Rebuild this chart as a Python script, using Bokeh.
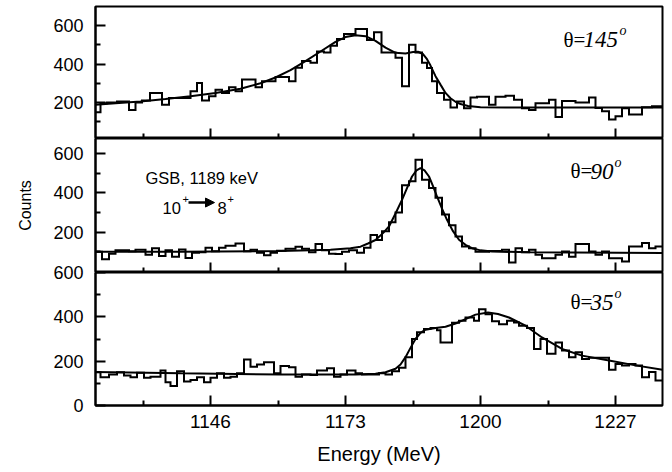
from bokeh.plotting import figure
from bokeh.layouts import column
from bokeh.models import (FixedTicker, Range1d, Label, Arrow, NormalHead,
                          CustomLabelingPolicy)
from bokeh.embed import file_html
from bokeh.resources import INLINE

# ---------------- data ----------------
x_ticks = [1146, 1173, 1200, 1227]
x_minor_ticks = [1132.5, 1159.5, 1186.5, 1213.5]
x_limits = (1123.0, 1236.4)

# theta = 145 deg panel
top_edges = [1123.0, 1124.0, 1125.3, 1127.3, 1129.7, 1131.0, 1132.3, 1133.9, 1136.3, 1137.7,
             1142.0, 1143.3, 1144.3, 1145.7, 1147.0, 1148.3, 1149.7, 1151.0, 1152.3, 1155.0,
             1156.3, 1159.0, 1161.7, 1163.0, 1164.3, 1166.0, 1167.3, 1168.7, 1170.0, 1171.3,
             1172.7, 1175.0, 1177.3, 1178.7, 1180.2, 1183.0, 1184.3, 1185.7, 1187.0, 1188.3,
             1189.3, 1190.3, 1191.3, 1192.7, 1194.0, 1195.3, 1196.7, 1198.0, 1199.3, 1201.7,
             1203.0, 1205.0, 1206.7, 1208.3, 1209.7, 1211.0, 1213.7, 1215.0, 1216.3, 1219.0,
             1221.7, 1223.0, 1224.3, 1225.7, 1227.0, 1228.3, 1229.7, 1232.3, 1234.3, 1236.4]
top_counts = [150, 196, 200, 205, 161, 200, 210, 249, 188, 223,
              258, 302, 210, 232, 267, 249, 279, 258, 319, 279,
              310, 332, 310, 381, 416, 407, 465, 460, 495, 530,
              556, 582, 525, 565, 460, 433, 284, 500, 460, 407,
              380, 310, 250, 214, 174, 205, 170, 226, 230, 188,
              230, 235, 214, 170, 161, 196, 214, 125, 208, 200,
              226, 172, 154, 112, 128, 170, 138, 176, 180]
top_fit_e = [1123, 1127, 1132, 1137, 1142, 1147, 1152, 1156, 1159, 1162,
             1165, 1168, 1171, 1173, 1175, 1177, 1179, 1181, 1183, 1185,
             1186.5, 1187.5, 1188.5, 1189.3, 1190, 1191, 1192, 1193, 1194, 1195,
             1196, 1197.5, 1200, 1205, 1215, 1236.4]
top_fit = [188, 196, 205, 218, 232, 250, 272, 300, 330, 368,
           415, 465, 515, 540, 550, 545, 520, 485, 458, 455,
           462, 464, 452, 425, 392, 337, 293, 250, 222, 204,
           192, 182, 176, 174, 174, 174]

# theta = 90 deg panel
mid_edges = [1123.0, 1124.3, 1125.7, 1127.0, 1129.7, 1131.0, 1133.0, 1134.3, 1135.7, 1137.0,
             1138.3, 1139.7, 1141.0, 1142.3, 1143.7, 1145.0, 1146.3, 1147.7, 1149.0, 1151.0,
             1152.7, 1154.0, 1155.3, 1156.7, 1158.0, 1159.3, 1161.0, 1163.0, 1164.3, 1165.7,
             1167.0, 1168.3, 1169.7, 1171.0, 1172.3, 1173.7, 1175.3, 1176.7, 1178.0, 1179.3,
             1180.3, 1181.7, 1183.0, 1184.3, 1185.7, 1187.0, 1188.3, 1189.7, 1191.0, 1192.3,
             1193.7, 1195.0, 1196.3, 1197.7, 1199.0, 1201.7, 1204.3, 1205.7, 1207.0, 1208.3,
             1209.7, 1211.0, 1212.3, 1215.0, 1216.3, 1217.7, 1219.0, 1221.7, 1223.0, 1224.3,
             1225.7, 1228.3, 1229.7, 1232.3, 1233.7, 1235.0, 1236.4]
mid_counts = [100, 62, 90, 108, 103, 110, 85, 118, 78, 108,
              75, 112, 68, 95, 98, 120, 102, 120, 130, 142,
              102, 110, 95, 82, 95, 105, 115, 125, 115, 98,
              140, 108, 90, 88, 100, 108, 95, 120, 185, 160,
              205, 250, 300, 440, 460, 569, 467, 425, 375, 290,
              235, 178, 127, 118, 100, 104, 110, 45, 118, 98,
              110, 85, 67, 84, 101, 75, 140, 101, 84, 101,
              67, 50, 127, 144, 118, 127]
mid_fit_e = [1123, 1140, 1160, 1170, 1174, 1176, 1177.5, 1179, 1180.5, 1181.7,
             1183, 1184.3, 1185.3, 1186.3, 1187.2, 1188, 1188.8, 1189.7, 1190.5, 1191.3,
             1192.3, 1193.3, 1194.5, 1195.7, 1197, 1198.3, 1200, 1202.3, 1210, 1236.4]
mid_fit = [100, 100, 104, 110, 118, 126, 142, 160, 195, 229,
           295, 365, 425, 484, 515, 527, 515, 484, 435, 382,
           320, 263, 205, 161, 135, 118, 107, 101, 97, 93]

# theta = 35 deg panel
bot_edges = [1123.0, 1124.0, 1125.7, 1127.3, 1128.7, 1130.0, 1131.3, 1132.7, 1134.0, 1136.0,
             1137.0, 1138.0, 1139.3, 1140.7, 1142.0, 1143.3, 1144.7, 1146.0, 1147.3, 1148.7,
             1150.0, 1151.3, 1152.7, 1154.0, 1155.3, 1156.7, 1158.7, 1160.0, 1161.7, 1163.0,
             1164.3, 1166.0, 1167.3, 1169.3, 1170.7, 1172.0, 1173.3, 1175.0, 1176.3, 1179.7,
             1181.0, 1182.3, 1183.7, 1185.0, 1186.3, 1187.3, 1188.7, 1190.0, 1191.3, 1192.0,
             1194.3, 1195.7, 1197.0, 1198.7, 1199.7, 1201.0, 1202.3, 1203.7, 1205.3, 1206.7,
             1207.7, 1209.3, 1210.7, 1212.0, 1213.3, 1215.0, 1216.3, 1217.7, 1219.0, 1220.3,
             1221.7, 1225.7, 1227.0, 1228.3, 1229.7, 1231.0, 1232.3, 1233.7, 1235.0, 1236.4]
bot_counts = [150, 128, 140, 150, 135, 128, 148, 125, 130, 158,
              105, 88, 155, 108, 115, 128, 105, 125, 145, 125,
              130, 145, 208, 175, 185, 195, 145, 178, 172, 130,
              140, 138, 158, 168, 130, 140, 158, 145, 140, 145,
              140, 155, 170, 218, 300, 330, 345, 350, 340, 284,
              373, 382, 397, 382, 434, 412, 380, 366, 382, 375,
              360, 350, 255, 300, 233, 284, 248, 218, 240, 210,
              215, 161, 187, 180, 187, 180, 128, 151, 113]
bot_fit_e = [1123, 1140, 1160, 1175, 1179, 1181, 1183, 1184, 1185, 1186,
             1187, 1188, 1189, 1191, 1193, 1195, 1197, 1199, 1201.5, 1203.5,
             1205.7, 1209, 1212.3, 1216.3, 1220.3, 1225.7, 1231, 1236.4]
bot_fit = [151, 145, 140, 140, 143, 150, 166, 185, 218, 260,
           300, 328, 342, 350, 355, 370, 390, 410, 420, 413,
           397, 360, 307, 255, 225, 203, 181, 161]

panel_angles = ["145", "90", "35"]

SANS = "Liberation Sans"
SERIF = "Liberation Serif"

NO_LABELS = CustomLabelingPolicy(code="""
for (const i of indices) { indices.unset(i) }
return indices
""")


def make_panel(height, y_limits, y_major, y_minor, margin, min_top, min_bottom, show_x):
    p = figure(width=668, height=height,
               x_range=Range1d(*x_limits), y_range=Range1d(*y_limits),
               output_backend="svg", toolbar_location=None, title=None,
               min_border_left=95, min_border_right=6,
               min_border_top=min_top, min_border_bottom=min_bottom,
               margin=margin)
    p.xgrid.visible = False
    p.ygrid.visible = False
    p.outline_line_color = "black"
    p.outline_line_width = 2
    p.outline_line_alpha = 1.0
    xa = p.xaxis[0]
    ya = p.yaxis[0]
    for ax in (xa, ya):
        ax.axis_line_width = 2
        ax.axis_line_color = "black"
        ax.major_tick_in = 10
        ax.major_tick_out = 0
        ax.minor_tick_in = 5
        ax.minor_tick_out = 0
        ax.major_tick_line_width = 2
        ax.minor_tick_line_width = 2
        ax.major_tick_line_color = "black"
        ax.minor_tick_line_color = "black"
        ax.major_label_text_font = SANS
        ax.major_label_text_color = "black"
    xa.ticker = FixedTicker(ticks=x_ticks, minor_ticks=x_minor_ticks)
    ya.ticker = FixedTicker(ticks=y_major, minor_ticks=y_minor)
    ya.major_label_text_font_size = "18px"
    ya.major_label_standoff = 12
    if show_x:
        xa.major_label_text_font_size = "19px"
        xa.major_label_standoff = 9
    else:
        xa.major_label_text_font_size = "0px"
        xa.major_label_standoff = 0
        xa.major_label_policy = NO_LABELS
    return p


def draw_spectrum(p, edges, counts, fit_e, fit_v):
    p.step(x=edges, y=counts + [counts[-1]], mode="after",
           line_color="black", line_width=2, line_join="miter")
    p.line(x=fit_e, y=fit_v, line_color="black", line_width=2)


def theta_label(p, x, y, angle, num_off, sup_off):
    p.add_layout(Label(x=x, y=y, text="θ=", text_font=SERIF, text_font_size="21px",
                       text_baseline="alphabetic", text_color="black"))
    p.add_layout(Label(x=x, y=y, x_offset=num_off, text=angle, text_font=SERIF,
                       text_font_size="23px", text_font_style="italic",
                       text_baseline="alphabetic", text_color="black"))
    p.add_layout(Label(x=x, y=y, x_offset=sup_off, y_offset=9, text="o", text_font=SERIF,
                       text_font_size="14px", text_font_style="italic",
                       text_baseline="alphabetic", text_color="black"))


# ---- top panel ----
p1 = make_panel(138, (13, 699), [200, 400, 600], [100, 300, 500],
                (0, 0, 0, 0), 6, 0, False)
draw_spectrum(p1, top_edges, top_counts, top_fit_e, top_fit)
theta_label(p1, 1216.6, 526, panel_angles[0], 20, 56)

# ---- middle panel ----
p2 = make_panel(134, (-6, 678), [200, 400, 600], [100, 300, 500],
                (0, 0, 0, 0), 0, 0, False)
draw_spectrum(p2, mid_edges, mid_counts, mid_fit_e, mid_fit)
theta_label(p2, 1218.0, 510, panel_angles[1], 20, 44)
ya2 = p2.yaxis[0]
ya2.axis_label = "Counts"
ya2.axis_label_text_font = SANS
ya2.axis_label_text_font_size = "16px"
ya2.axis_label_text_font_style = "normal"
ya2.axis_label_text_color = "black"
ya2.axis_label_standoff = 16
p2.add_layout(Label(x=1133.0, y=474, text="GSB, 1189 keV", text_font=SANS,
                    text_font_size="16.5px", text_baseline="alphabetic", text_color="black"))
p2.add_layout(Label(x=1136.4, y=321, text="10", text_font=SANS,
                    text_font_size="16.5px", text_baseline="alphabetic", text_color="black"))
p2.add_layout(Label(x=1140.4, y=370, text="+", text_font=SANS,
                    text_font_size="11px", text_baseline="alphabetic", text_color="black"))
p2.add_layout(Arrow(end=NormalHead(size=9, fill_color="black", line_color="black", line_width=1),
                    x_start=1141.6, y_start=351, x_end=1146.8, y_end=351,
                    line_width=2.5, line_color="black"))
p2.add_layout(Label(x=1147.4, y=321, text="8", text_font=SANS,
                    text_font_size="16.5px", text_baseline="alphabetic", text_color="black"))
p2.add_layout(Label(x=1149.4, y=370, text="+", text_font=SANS,
                    text_font_size="11px", text_baseline="alphabetic", text_color="black"))

# ---- bottom panel ----
p3 = make_panel(210, (0, 600), [0, 200, 400, 600], [100, 300, 500],
                (-10, 0, 0, 0), 10, 67, True)
p3.border_fill_color = None
draw_spectrum(p3, bot_edges, bot_counts, bot_fit_e, bot_fit)
theta_label(p3, 1218.0, 466, panel_angles[2], 20, 44)
xa3 = p3.xaxis[0]
xa3.axis_label = "Energy (MeV)"
xa3.axis_label_text_font = SANS
xa3.axis_label_text_font_size = "20px"
xa3.axis_label_text_font_style = "normal"
xa3.axis_label_text_color = "black"
xa3.axis_label_standoff = 12

layout = column(p1, p2, p3)
open("out.html", "w").write(file_html(layout, INLINE))
